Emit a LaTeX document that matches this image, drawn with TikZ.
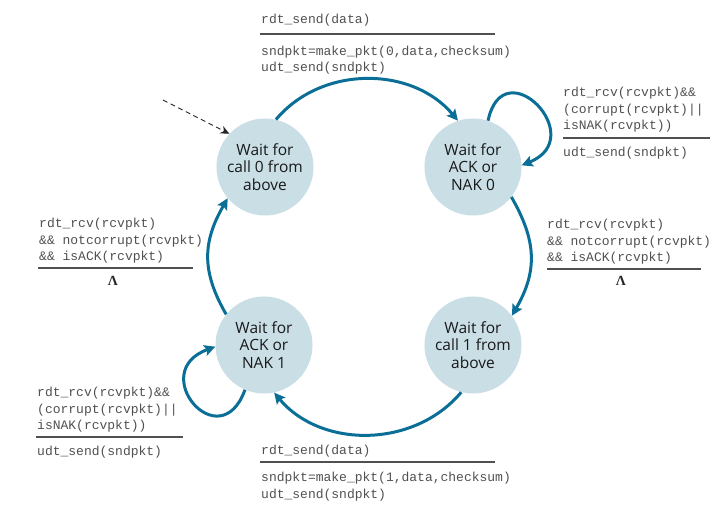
\documentclass[tikz,border=0pt]{standalone}
\usepackage{fontspec}
\setmainfont{Liberation Serif}
\newfontfamily\statefont{Open Sans}
\newfontfamily\codefont{Liberation Mono}
\usetikzlibrary{arrows.meta}
\definecolor{arrowblue}{RGB}{10,110,150}
\definecolor{statefill}{RGB}{202,222,230}
\definecolor{codegray}{RGB}{80,80,80}
\tikzset{
  state/.style={circle, fill=statefill, minimum size=97pt, inner sep=0pt,
    align=center, font=\statefont\fontsize{15.5}{17.5}\selectfont, text=black!90},
  trans/.style={draw=arrowblue, line width=3pt,
    -{Stealth[length=11pt,width=11pt,inset=2pt]}},
  code/.style={anchor=base west, align=left, inner sep=0pt, text=codegray,
    font=\codefont\fontsize{13}{16.7}\selectfont},
  rule/.style={draw=codegray, line width=1.1pt},
  lam/.style={inner sep=0pt, text=black!85, font=\bfseries\fontsize{14}{14}\selectfont},
  initarrow/.style={draw=black!85, line width=0.9pt, dash pattern=on 5pt off 3.5pt,
    -{Stealth[length=9pt,width=8pt]}}
}
\begin{document}
\begin{tikzpicture}[x=1pt,y=1pt]
\useasboundingbox (0,0) rectangle (715,-510);

% states
\node[state] (s0) at (265,-167) {Wait for\\call 0 from\\above};
\node[state] (s1) at (473,-167) {Wait for\\ACK or\\NAK 0};
\node[state] (s2) at (473,-345) {Wait for\\call 1 from\\above};
\node[state] (s3) at (264,-345) {Wait for\\ACK or\\NAK 1};

% initial arrow
\coordinate (init) at (163,-100);
\draw[initarrow] (init) -- (s0.137);

% transitions
\draw[trans] (s0.77) to[out=50,in=130] (s1.108);
\draw[trans] (s1.-38) to[out=-60,in=60,looseness=1.1] (s2.37);
\draw[trans] (s2.-104) to[out=-130,in=-50] (s3.-78);
\draw[trans] (s3.141) to[out=120,in=-120,looseness=1.1] (s0.-140);

% self loops
\draw[trans] (s1.72) to[out=78,in=22,looseness=3.4] (s1.2);
\draw[trans] (s3.-113) to[out=-110,in=-160,looseness=3.6] (s3.-178);

% top label
\node[code] (tA) at (261,-24) {rdt\_send(data)};
\draw[rule] (260,-34) -- (495,-34);
\node[code] (tB) at (261,-72) {sndpkt=make\_pkt(0,data,checksum)\\udt\_send(sndpkt)};

% top right loop label
\node[code] (rA) at (563,-130) {rdt\_rcv(rcvpkt)\&\&\\(corrupt(rcvpkt)||\\isNAK(rcvpkt))};
\draw[rule] (563,-138) -- (710,-138);
\node[code] (rB) at (563,-157) {udt\_send(sndpkt)};

% right label
\node[code] (mA) at (547,-262) {rdt\_rcv(rcvpkt)\\\&\& notcorrupt(rcvpkt)\\\&\& isACK(rcvpkt)};
\draw[rule] (547,-269) -- (701,-269);
\node[lam] (mB) at (621,-281) {Λ};

% left label
\node[code] (lA) at (39,-261) {rdt\_rcv(rcvpkt)\\\&\& notcorrupt(rcvpkt)\\\&\& isACK(rcvpkt)};
\draw[rule] (38,-268) -- (193,-268);
\node[lam] (lB) at (113,-281) {Λ};

% bottom left loop label
\node[code] (bA) at (37,-430) {rdt\_rcv(rcvpkt)\&\&\\(corrupt(rcvpkt)||\\isNAK(rcvpkt))};
\draw[rule] (36,-437) -- (183,-437);
\node[code] (bB) at (37,-456) {udt\_send(sndpkt)};

% bottom label
\node[code] (dA) at (261,-454) {rdt\_send(data)};
\draw[rule] (260,-462) -- (495,-462);
\node[code] (dB) at (261,-498) {sndpkt=make\_pkt(1,data,checksum)\\udt\_send(sndpkt)};
\end{tikzpicture}
\end{document}
